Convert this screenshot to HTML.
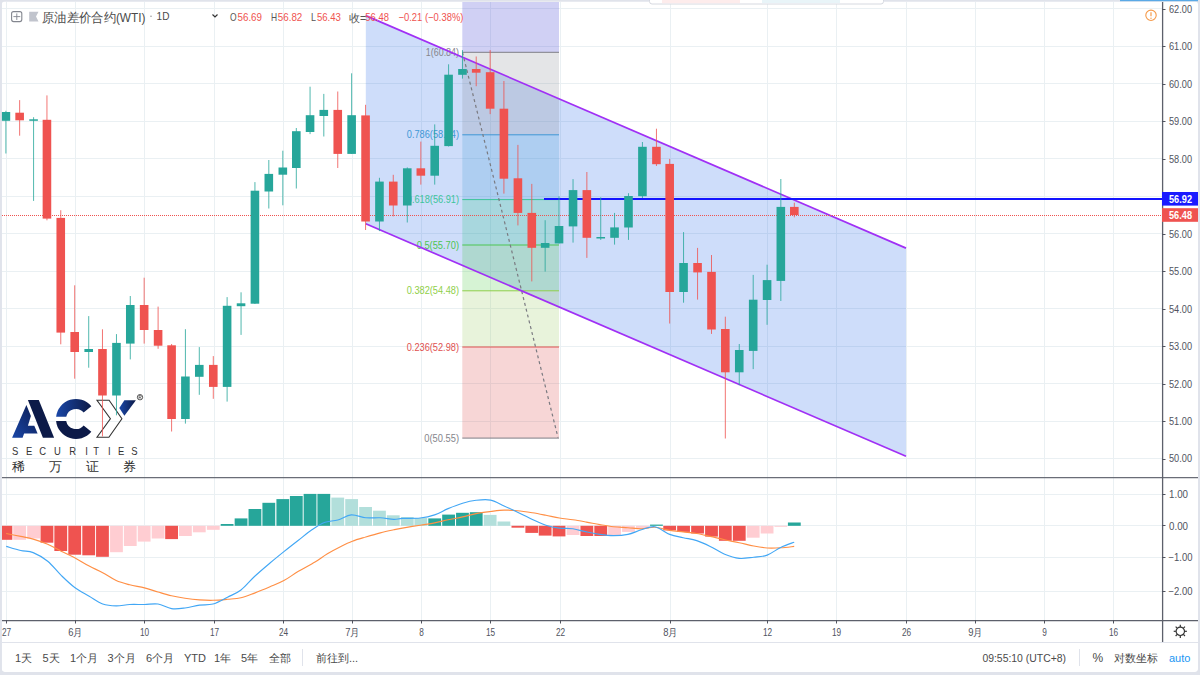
<!DOCTYPE html><html><head><meta charset="utf-8"><style>html,body{margin:0;padding:0;background:#fff;width:1200px;height:675px;overflow:hidden;}svg{display:block;font-family:"Liberation Sans",sans-serif;}</style></head><body>
<svg width="1200" height="675" viewBox="0 0 1200 675">
<rect x="0" y="0" width="1200" height="675" fill="#e0e3eb"/><rect x="1.8" y="1.6" width="1196.2" height="670.4" rx="3" fill="#ffffff"/>
<line x1="2" y1="458.5" x2="1162" y2="458.5" stroke="#eaf0f3" stroke-width="1"/>
<line x1="2" y1="421.5" x2="1162" y2="421.5" stroke="#eaf0f3" stroke-width="1"/>
<line x1="2" y1="383.5" x2="1162" y2="383.5" stroke="#eaf0f3" stroke-width="1"/>
<line x1="2" y1="346.5" x2="1162" y2="346.5" stroke="#eaf0f3" stroke-width="1"/>
<line x1="2" y1="308.5" x2="1162" y2="308.5" stroke="#eaf0f3" stroke-width="1"/>
<line x1="2" y1="271.5" x2="1162" y2="271.5" stroke="#eaf0f3" stroke-width="1"/>
<line x1="2" y1="233.5" x2="1162" y2="233.5" stroke="#eaf0f3" stroke-width="1"/>
<line x1="2" y1="196.5" x2="1162" y2="196.5" stroke="#eaf0f3" stroke-width="1"/>
<line x1="2" y1="158.5" x2="1162" y2="158.5" stroke="#eaf0f3" stroke-width="1"/>
<line x1="2" y1="121.5" x2="1162" y2="121.5" stroke="#eaf0f3" stroke-width="1"/>
<line x1="2" y1="83.5" x2="1162" y2="83.5" stroke="#eaf0f3" stroke-width="1"/>
<line x1="2" y1="46.5" x2="1162" y2="46.5" stroke="#eaf0f3" stroke-width="1"/>
<line x1="2" y1="8.5" x2="1162" y2="8.5" stroke="#eaf0f3" stroke-width="1"/>
<line x1="2" y1="494.5" x2="1162" y2="494.5" stroke="#eaf0f3" stroke-width="1"/>
<line x1="2" y1="525.5" x2="1162" y2="525.5" stroke="#eaf0f3" stroke-width="1"/>
<line x1="2" y1="557.5" x2="1162" y2="557.5" stroke="#eaf0f3" stroke-width="1"/>
<line x1="2" y1="591.5" x2="1162" y2="591.5" stroke="#eaf0f3" stroke-width="1"/>
<line x1="6.5" y1="2" x2="6.5" y2="620" stroke="#eaf0f3" stroke-width="1"/>
<line x1="75.5" y1="2" x2="75.5" y2="620" stroke="#eaf0f3" stroke-width="1"/>
<line x1="144.5" y1="2" x2="144.5" y2="620" stroke="#eaf0f3" stroke-width="1"/>
<line x1="214.5" y1="2" x2="214.5" y2="620" stroke="#eaf0f3" stroke-width="1"/>
<line x1="283.5" y1="2" x2="283.5" y2="620" stroke="#eaf0f3" stroke-width="1"/>
<line x1="352.5" y1="2" x2="352.5" y2="620" stroke="#eaf0f3" stroke-width="1"/>
<line x1="421.5" y1="2" x2="421.5" y2="620" stroke="#eaf0f3" stroke-width="1"/>
<line x1="490.5" y1="2" x2="490.5" y2="620" stroke="#eaf0f3" stroke-width="1"/>
<line x1="560.5" y1="2" x2="560.5" y2="620" stroke="#eaf0f3" stroke-width="1"/>
<line x1="670.5" y1="2" x2="670.5" y2="620" stroke="#eaf0f3" stroke-width="1"/>
<line x1="767.5" y1="2" x2="767.5" y2="620" stroke="#eaf0f3" stroke-width="1"/>
<line x1="836.5" y1="2" x2="836.5" y2="620" stroke="#eaf0f3" stroke-width="1"/>
<line x1="906.5" y1="2" x2="906.5" y2="620" stroke="#eaf0f3" stroke-width="1"/>
<line x1="975.5" y1="2" x2="975.5" y2="620" stroke="#eaf0f3" stroke-width="1"/>
<line x1="1044.5" y1="2" x2="1044.5" y2="620" stroke="#eaf0f3" stroke-width="1"/>
<line x1="1113.5" y1="2" x2="1113.5" y2="620" stroke="#eaf0f3" stroke-width="1"/>
<defs><linearGradient id="lg1" x1="0" y1="1" x2="1" y2="0"><stop offset="0" stop-color="#1a47a8"/><stop offset="1" stop-color="#0c1b4f"/></linearGradient><linearGradient id="lg2" x1="0" y1="0" x2="1" y2="0"><stop offset="0" stop-color="#1a47a8"/><stop offset="1" stop-color="#0c1a46"/></linearGradient></defs>
<g>
<polygon points="12.1,437.8 26.4,405.1 30.9,416 27.9,425.8 34.3,425.8 37.6,433.6 24.1,433.6 22.6,437.8" fill="url(#lg1)"/>
<polygon points="27.9,400.1 38.8,400.1 54.1,437.8 42.9,437.8" fill="#0c1a48"/>
<path d="M 91.32,406.14 A 20.0 20.0 0 0 0 56.12,416.8 L 66.25,416.8 A 10.0 10.0 0 0 1 83.66,412.57 Z" fill="url(#lg2)"/>
<path d="M 56.09,420.9 A 20.0 20.0 0 0 0 91.32,431.86 L 83.66,425.43 A 10.0 10.0 0 0 1 66.18,420.9 Z" fill="#0c1a48"/>
<polygon points="97,400.3 109.1,400.3 121.9,418.7 108.9,437.2 97,437.2 110.4,418.7" fill="none" stroke="#333" stroke-width="1.1" stroke-linejoin="miter"/>
<polygon points="119.3,407.9 124.4,400.3 135.9,400.3 124.4,415.7" fill="url(#lg2)"/>
<circle cx="140" cy="397.2" r="2.7" fill="none" stroke="#333" stroke-width="0.8"/><path d="M139,398.8 V395.6 H140.4 A0.9 0.9 0 0 1 140.4,397.4 H139 M140.2,397.4 L141.2,398.8" fill="none" stroke="#333" stroke-width="0.6"/>
<text transform="translate(12,454.6) scale(0.86,1)" font-size="11" fill="#333">S</text>
<text transform="translate(26,454.6) scale(0.86,1)" font-size="11" fill="#333">E</text>
<text transform="translate(39.3,454.6) scale(0.86,1)" font-size="11" fill="#333">C</text>
<text transform="translate(54,454.6) scale(0.86,1)" font-size="11" fill="#333">U</text>
<text transform="translate(69.3,454.6) scale(0.86,1)" font-size="11" fill="#333">R</text>
<text transform="translate(85.3,454.6) scale(0.86,1)" font-size="11" fill="#333">I</text>
<text transform="translate(93.3,454.6) scale(0.86,1)" font-size="11" fill="#333">T</text>
<text transform="translate(108,454.6) scale(0.86,1)" font-size="11" fill="#333">I</text>
<text transform="translate(118,454.6) scale(0.86,1)" font-size="11" fill="#333">E</text>
<text transform="translate(131.3,454.6) scale(0.86,1)" font-size="11" fill="#333">S</text>
<text x="12" y="471" font-size="13.3" fill="#2e2e2e">稀</text>
<text x="49.3" y="471" font-size="13.3" fill="#2e2e2e">万</text>
<text x="86" y="471" font-size="13.3" fill="#2e2e2e">证</text>
<text x="123.3" y="471" font-size="13.3" fill="#2e2e2e">券</text>
</g>
<polygon points="365.8,15.6 906,248.10208000000003 906,456.30208000000005 365.8,223.8" fill="rgba(33,100,230,0.22)"/>
<rect x="462.3" y="2" width="96.69999999999999" height="50.3" fill="rgba(60,60,210,0.24)"/>
<rect x="462.3" y="52.3" width="96.69999999999999" height="82.50000000000001" fill="rgba(120,123,134,0.2)"/>
<rect x="462.3" y="134.8" width="96.69999999999999" height="64.79999999999998" fill="rgba(50,150,205,0.2)"/>
<rect x="462.3" y="199.6" width="96.69999999999999" height="45.400000000000006" fill="rgba(20,195,110,0.2)"/>
<rect x="462.3" y="245" width="96.69999999999999" height="45.80000000000001" fill="rgba(70,200,60,0.22)"/>
<rect x="462.3" y="290.8" width="96.69999999999999" height="56.19999999999999" fill="rgba(139,195,74,0.2)"/>
<rect x="462.3" y="347" width="96.69999999999999" height="91.10000000000002" fill="rgba(220,70,70,0.22)"/>
<line x1="462.3" y1="52.3" x2="559" y2="52.3" stroke="#7f7f86" stroke-width="1"/>
<line x1="462.3" y1="134.8" x2="559" y2="134.8" stroke="#3f98d6" stroke-width="1"/>
<line x1="462.3" y1="199.6" x2="559" y2="199.6" stroke="#3cc49a" stroke-width="1"/>
<line x1="462.3" y1="245.0" x2="559" y2="245.0" stroke="#4cc552" stroke-width="1"/>
<line x1="462.3" y1="290.8" x2="559" y2="290.8" stroke="#8fcf4a" stroke-width="1"/>
<line x1="462.3" y1="347.0" x2="559" y2="347.0" stroke="#e05050" stroke-width="1"/>
<line x1="462.3" y1="438.1" x2="559" y2="438.1" stroke="#7f7f86" stroke-width="1"/>
<text x="459" y="55.8" font-size="10.3" fill="#85858b" text-anchor="end" textLength="33.19999999999999" lengthAdjust="spacingAndGlyphs">1(60.84)</text>
<text x="459" y="138.3" font-size="10.3" fill="#3f98d6" text-anchor="end" textLength="52.19999999999999" lengthAdjust="spacingAndGlyphs">0.786(58.64)</text>
<text x="459" y="203.1" font-size="10.3" fill="#3cc49a" text-anchor="end" textLength="52.19999999999999" lengthAdjust="spacingAndGlyphs">0.618(56.91)</text>
<text x="459" y="248.5" font-size="10.3" fill="#4cc552" text-anchor="end" textLength="42.30000000000001" lengthAdjust="spacingAndGlyphs">0.5(55.70)</text>
<text x="459" y="294.3" font-size="10.3" fill="#8fcf4a" text-anchor="end" textLength="52.30000000000001" lengthAdjust="spacingAndGlyphs">0.382(54.48)</text>
<text x="459" y="350.5" font-size="10.3" fill="#e05050" text-anchor="end" textLength="52.30000000000001" lengthAdjust="spacingAndGlyphs">0.236(52.98)</text>
<text x="459" y="441.6" font-size="10.3" fill="#85858b" text-anchor="end" textLength="34.69999999999999" lengthAdjust="spacingAndGlyphs">0(50.55)</text>
<line x1="462.5" y1="52.5" x2="558" y2="437.5" stroke="#7a7a80" stroke-width="1.2" stroke-dasharray="3,3"/>
<line x1="365.8" y1="15.6" x2="906" y2="248.10208000000003" stroke="#a030f5" stroke-width="1.7"/>
<line x1="365.8" y1="223.8" x2="906" y2="456.30208000000005" stroke="#a030f5" stroke-width="1.7"/>
<line x1="544" y1="199.1" x2="1162" y2="199.1" stroke="#1414ff" stroke-width="2"/>
<line x1="2" y1="215.5" x2="1162" y2="215.5" stroke="#ef5350" stroke-width="1" stroke-dasharray="1,1"/>
<rect x="5.39" y="110.8" width="1" height="42.7" fill="#26a69a" fill-opacity="0.8"/>
<rect x="1.59" y="112" width="8.6" height="8.799999999999997" fill="#26a69a"/>
<rect x="19.14" y="100.1" width="1" height="35.599999999999994" fill="#ef5350" fill-opacity="0.8"/>
<rect x="15.34" y="112.7" width="8.6" height="7.599999999999994" fill="#ef5350"/>
<rect x="33.08" y="117.2" width="1" height="83.7" fill="#26a69a" fill-opacity="0.8"/>
<rect x="29.28" y="119.3" width="8.6" height="1.5" fill="#26a69a"/>
<rect x="46.44" y="95.4" width="1" height="124.9" fill="#ef5350" fill-opacity="0.8"/>
<rect x="42.64" y="119.8" width="8.6" height="98.8" fill="#ef5350"/>
<rect x="60.26" y="210.2" width="1" height="134.10000000000002" fill="#ef5350" fill-opacity="0.8"/>
<rect x="56.46" y="217.9" width="8.6" height="114.70000000000002" fill="#ef5350"/>
<rect x="74.20" y="285.3" width="1" height="93.39999999999998" fill="#ef5350" fill-opacity="0.8"/>
<rect x="70.40" y="332" width="8.6" height="20" fill="#ef5350"/>
<rect x="88.21" y="316.1" width="1" height="51.599999999999966" fill="#26a69a" fill-opacity="0.8"/>
<rect x="84.41" y="349" width="8.6" height="3" fill="#26a69a"/>
<rect x="101.96" y="329.3" width="1" height="107.09999999999997" fill="#ef5350" fill-opacity="0.8"/>
<rect x="98.16" y="349" width="8.6" height="46.5" fill="#ef5350"/>
<rect x="115.97" y="334.1" width="1" height="81.19999999999999" fill="#26a69a" fill-opacity="0.8"/>
<rect x="112.17" y="342.9" width="8.6" height="52.60000000000002" fill="#26a69a"/>
<rect x="129.78" y="296" width="1" height="63.39999999999998" fill="#26a69a" fill-opacity="0.8"/>
<rect x="125.98" y="305" width="8.6" height="38.60000000000002" fill="#26a69a"/>
<rect x="143.66" y="277.7" width="1" height="65.90000000000003" fill="#ef5350" fill-opacity="0.8"/>
<rect x="139.86" y="305" width="8.6" height="25" fill="#ef5350"/>
<rect x="157.60" y="306.6" width="1" height="42.19999999999999" fill="#ef5350" fill-opacity="0.8"/>
<rect x="153.80" y="330" width="8.6" height="15.699999999999989" fill="#ef5350"/>
<rect x="171.09" y="344" width="1" height="87.5" fill="#ef5350" fill-opacity="0.8"/>
<rect x="167.29" y="345.3" width="8.6" height="73.69999999999999" fill="#ef5350"/>
<rect x="184.91" y="329.2" width="1" height="94.40000000000003" fill="#26a69a" fill-opacity="0.8"/>
<rect x="181.11" y="376.5" width="8.6" height="42.5" fill="#26a69a"/>
<rect x="198.79" y="347.1" width="1" height="47.69999999999999" fill="#26a69a" fill-opacity="0.8"/>
<rect x="194.99" y="364.9" width="8.6" height="11.900000000000034" fill="#26a69a"/>
<rect x="212.79" y="356.1" width="1" height="42.69999999999999" fill="#ef5350" fill-opacity="0.8"/>
<rect x="208.99" y="364.9" width="8.6" height="22.0" fill="#ef5350"/>
<rect x="226.61" y="297.1" width="1" height="104.5" fill="#26a69a" fill-opacity="0.8"/>
<rect x="222.81" y="305.8" width="8.6" height="81.09999999999997" fill="#26a69a"/>
<rect x="240.55" y="292.3" width="1" height="42.599999999999966" fill="#26a69a" fill-opacity="0.8"/>
<rect x="236.75" y="303.3" width="8.6" height="2.8999999999999773" fill="#26a69a"/>
<rect x="254.43" y="182.1" width="1" height="121.9" fill="#26a69a" fill-opacity="0.8"/>
<rect x="250.63" y="190.7" width="8.6" height="113.0" fill="#26a69a"/>
<rect x="268.31" y="160" width="1" height="48.5" fill="#26a69a" fill-opacity="0.8"/>
<rect x="264.51" y="173.9" width="8.6" height="17.599999999999994" fill="#26a69a"/>
<rect x="282.32" y="150.7" width="1" height="54.60000000000002" fill="#26a69a" fill-opacity="0.8"/>
<rect x="278.52" y="167.5" width="8.6" height="7.199999999999989" fill="#26a69a"/>
<rect x="295.81" y="128" width="1" height="60.5" fill="#26a69a" fill-opacity="0.8"/>
<rect x="292.01" y="131.2" width="8.6" height="36.80000000000001" fill="#26a69a"/>
<rect x="309.56" y="86.7" width="1" height="47.39999999999999" fill="#26a69a" fill-opacity="0.8"/>
<rect x="305.76" y="115.2" width="8.6" height="16.799999999999997" fill="#26a69a"/>
<rect x="323.30" y="93.9" width="1" height="42.599999999999994" fill="#26a69a" fill-opacity="0.8"/>
<rect x="319.50" y="109.9" width="8.6" height="6.099999999999994" fill="#26a69a"/>
<rect x="337.25" y="91.5" width="1" height="76.5" fill="#ef5350" fill-opacity="0.8"/>
<rect x="333.45" y="109.9" width="8.6" height="44.0" fill="#ef5350"/>
<rect x="351.13" y="73.3" width="1" height="80.7" fill="#26a69a" fill-opacity="0.8"/>
<rect x="347.33" y="115.2" width="8.6" height="38.7" fill="#26a69a"/>
<rect x="365.07" y="104.8" width="1" height="125.2" fill="#ef5350" fill-opacity="0.8"/>
<rect x="361.27" y="115.4" width="8.6" height="106.1" fill="#ef5350"/>
<rect x="378.95" y="177.8" width="1" height="53.29999999999998" fill="#26a69a" fill-opacity="0.8"/>
<rect x="375.15" y="181.6" width="8.6" height="39.900000000000006" fill="#26a69a"/>
<rect x="392.76" y="174.8" width="1" height="41.599999999999994" fill="#ef5350" fill-opacity="0.8"/>
<rect x="388.96" y="181.6" width="8.6" height="23.900000000000006" fill="#ef5350"/>
<rect x="406.77" y="167.4" width="1" height="55.099999999999994" fill="#26a69a" fill-opacity="0.8"/>
<rect x="402.97" y="168.3" width="8.6" height="37.19999999999999" fill="#26a69a"/>
<rect x="420.33" y="141.6" width="1" height="43.0" fill="#ef5350" fill-opacity="0.8"/>
<rect x="416.53" y="168.3" width="8.6" height="7.399999999999977" fill="#ef5350"/>
<rect x="434.21" y="124.4" width="1" height="60.19999999999999" fill="#26a69a" fill-opacity="0.8"/>
<rect x="430.41" y="145.8" width="8.6" height="29.899999999999977" fill="#26a69a"/>
<rect x="448.08" y="64.3" width="1" height="82.2" fill="#26a69a" fill-opacity="0.8"/>
<rect x="444.28" y="74.7" width="8.6" height="71.39999999999999" fill="#26a69a"/>
<rect x="461.96" y="50.1" width="1" height="28.499999999999993" fill="#26a69a" fill-opacity="0.8"/>
<rect x="458.16" y="69" width="8.6" height="5.799999999999997" fill="#26a69a"/>
<rect x="475.71" y="56.5" width="1" height="29.700000000000003" fill="#ef5350" fill-opacity="0.8"/>
<rect x="471.91" y="69" width="8.6" height="3.700000000000003" fill="#ef5350"/>
<rect x="489.66" y="50.1" width="1" height="63.99999999999999" fill="#ef5350" fill-opacity="0.8"/>
<rect x="485.86" y="72.2" width="8.6" height="36.5" fill="#ef5350"/>
<rect x="503.40" y="81" width="1" height="112.6" fill="#ef5350" fill-opacity="0.8"/>
<rect x="499.60" y="108.7" width="8.6" height="69.99999999999999" fill="#ef5350"/>
<rect x="517.41" y="144.9" width="1" height="80.5" fill="#ef5350" fill-opacity="0.8"/>
<rect x="513.61" y="178.3" width="8.6" height="34.599999999999994" fill="#ef5350"/>
<rect x="531.29" y="183.9" width="1" height="97.49999999999997" fill="#ef5350" fill-opacity="0.8"/>
<rect x="527.49" y="212.9" width="8.6" height="34.900000000000006" fill="#ef5350"/>
<rect x="544.65" y="220.2" width="1" height="51.400000000000034" fill="#26a69a" fill-opacity="0.8"/>
<rect x="540.85" y="243" width="8.6" height="4.800000000000011" fill="#26a69a"/>
<rect x="558.53" y="196.3" width="1" height="47.19999999999999" fill="#26a69a" fill-opacity="0.8"/>
<rect x="554.73" y="226" width="8.6" height="17.400000000000006" fill="#26a69a"/>
<rect x="572.54" y="179.1" width="1" height="63.5" fill="#26a69a" fill-opacity="0.8"/>
<rect x="568.74" y="190.1" width="8.6" height="36.30000000000001" fill="#26a69a"/>
<rect x="586.35" y="172" width="1" height="85.89999999999998" fill="#ef5350" fill-opacity="0.8"/>
<rect x="582.55" y="190.1" width="8.6" height="47.70000000000002" fill="#ef5350"/>
<rect x="600.23" y="197.3" width="1" height="42.599999999999994" fill="#26a69a" fill-opacity="0.8"/>
<rect x="596.43" y="237" width="8.6" height="1.5" fill="#26a69a"/>
<rect x="614.04" y="212.9" width="1" height="31.69999999999999" fill="#26a69a" fill-opacity="0.8"/>
<rect x="610.24" y="227.4" width="8.6" height="10.400000000000006" fill="#26a69a"/>
<rect x="627.99" y="193.2" width="1" height="46.70000000000002" fill="#26a69a" fill-opacity="0.8"/>
<rect x="624.19" y="196" width="8.6" height="31.5" fill="#26a69a"/>
<rect x="641.93" y="142" width="1" height="56" fill="#26a69a" fill-opacity="0.8"/>
<rect x="638.13" y="146.8" width="8.6" height="49.39999999999998" fill="#26a69a"/>
<rect x="655.94" y="128.7" width="1" height="37.30000000000001" fill="#ef5350" fill-opacity="0.8"/>
<rect x="652.14" y="146.8" width="8.6" height="17.399999999999977" fill="#ef5350"/>
<rect x="669.17" y="158.9" width="1" height="164.6" fill="#ef5350" fill-opacity="0.8"/>
<rect x="665.37" y="163.9" width="8.6" height="128.1" fill="#ef5350"/>
<rect x="683.05" y="232.1" width="1" height="70.6" fill="#26a69a" fill-opacity="0.8"/>
<rect x="679.25" y="263" width="8.6" height="29" fill="#26a69a"/>
<rect x="697.06" y="247.9" width="1" height="51.70000000000002" fill="#ef5350" fill-opacity="0.8"/>
<rect x="693.26" y="263" width="8.6" height="9.399999999999977" fill="#ef5350"/>
<rect x="711.00" y="255" width="1" height="78.89999999999998" fill="#ef5350" fill-opacity="0.8"/>
<rect x="707.20" y="271.9" width="8.6" height="57.60000000000002" fill="#ef5350"/>
<rect x="724.82" y="316.7" width="1" height="121.80000000000001" fill="#ef5350" fill-opacity="0.8"/>
<rect x="721.02" y="329" width="8.6" height="43.30000000000001" fill="#ef5350"/>
<rect x="738.76" y="344" width="1" height="41.19999999999999" fill="#26a69a" fill-opacity="0.8"/>
<rect x="734.96" y="350" width="8.6" height="22.30000000000001" fill="#26a69a"/>
<rect x="752.70" y="274.9" width="1" height="94.20000000000005" fill="#26a69a" fill-opacity="0.8"/>
<rect x="748.90" y="299.7" width="8.6" height="51.19999999999999" fill="#26a69a"/>
<rect x="766.58" y="264.7" width="1" height="60.10000000000002" fill="#26a69a" fill-opacity="0.8"/>
<rect x="762.78" y="280.1" width="8.6" height="19.899999999999977" fill="#26a69a"/>
<rect x="780.33" y="179" width="1" height="122" fill="#26a69a" fill-opacity="0.8"/>
<rect x="776.53" y="206.9" width="8.6" height="73.99999999999997" fill="#26a69a"/>
<rect x="793.82" y="202.7" width="1" height="14.600000000000023" fill="#ef5350" fill-opacity="0.8"/>
<rect x="790.02" y="206.9" width="8.6" height="8.099999999999994" fill="#ef5350"/>
<rect x="2" y="525.8" width="10.291500000000001" height="14.0" fill="#ef5350"/>
<rect x="13.240324999999997" y="525.8" width="12.8" height="14.0" fill="#ffcdd2"/>
<rect x="27.184150000000002" y="525.8" width="12.8" height="12.700000000000045" fill="#ffcdd2"/>
<rect x="40.54297499999999" y="525.8" width="12.8" height="16.90000000000009" fill="#ef5350"/>
<rect x="54.3568" y="525.8" width="12.8" height="25.200000000000045" fill="#ef5350"/>
<rect x="68.30062499999998" y="525.8" width="12.8" height="28.90000000000009" fill="#ef5350"/>
<rect x="82.30945" y="525.8" width="12.8" height="29.5" fill="#ef5350"/>
<rect x="96.05827499999998" y="525.8" width="12.8" height="31.0" fill="#ef5350"/>
<rect x="110.0671" y="525.8" width="12.8" height="26.40000000000009" fill="#ffcdd2"/>
<rect x="123.88092499999999" y="525.8" width="12.8" height="20.200000000000045" fill="#ffcdd2"/>
<rect x="137.75974999999997" y="525.8" width="12.8" height="15.800000000000068" fill="#ffcdd2"/>
<rect x="151.70357499999997" y="525.8" width="12.8" height="12.700000000000045" fill="#ffcdd2"/>
<rect x="165.1924" y="525.8" width="12.8" height="13.300000000000068" fill="#ef5350"/>
<rect x="179.006225" y="525.8" width="12.8" height="10.200000000000045" fill="#ffcdd2"/>
<rect x="192.88504999999998" y="525.8" width="12.8" height="6.5" fill="#ffcdd2"/>
<rect x="206.893875" y="525.8" width="12.8" height="4.0" fill="#ffcdd2"/>
<rect x="220.7077" y="524" width="12.8" height="1.7999999999999545" fill="#26a69a"/>
<rect x="234.65152499999996" y="518.4" width="12.8" height="7.399999999999977" fill="#26a69a"/>
<rect x="248.53034999999997" y="509" width="12.8" height="16.799999999999955" fill="#26a69a"/>
<rect x="262.409175" y="502.8" width="12.8" height="22.999999999999943" fill="#26a69a"/>
<rect x="276.418" y="499.1" width="12.8" height="26.699999999999932" fill="#26a69a"/>
<rect x="289.906825" y="496" width="12.8" height="29.799999999999955" fill="#26a69a"/>
<rect x="303.65565000000004" y="493.9" width="12.8" height="31.899999999999977" fill="#26a69a"/>
<rect x="317.404475" y="493.9" width="12.8" height="31.899999999999977" fill="#26a69a"/>
<rect x="331.3483" y="497.6" width="12.8" height="28.199999999999932" fill="#b2dfdb"/>
<rect x="345.227125" y="499.1" width="12.8" height="26.699999999999932" fill="#b2dfdb"/>
<rect x="359.17095000000006" y="507" width="12.8" height="18.799999999999955" fill="#b2dfdb"/>
<rect x="373.049775" y="510.7" width="12.8" height="15.099999999999966" fill="#b2dfdb"/>
<rect x="386.8636" y="515.3" width="12.8" height="10.5" fill="#b2dfdb"/>
<rect x="400.872425" y="517" width="12.8" height="8.799999999999955" fill="#b2dfdb"/>
<rect x="414.42625000000004" y="518" width="12.8" height="7.7999999999999545" fill="#b2dfdb"/>
<rect x="428.305075" y="518.4" width="12.8" height="7.399999999999977" fill="#26a69a"/>
<rect x="442.1839" y="514.6" width="12.8" height="11.199999999999932" fill="#26a69a"/>
<rect x="456.062725" y="512.8" width="12.8" height="13.0" fill="#26a69a"/>
<rect x="469.81155" y="512.2" width="12.8" height="13.599999999999909" fill="#26a69a"/>
<rect x="483.755375" y="514.9" width="12.8" height="10.899999999999977" fill="#b2dfdb"/>
<rect x="497.50419999999997" y="521.5" width="12.8" height="4.2999999999999545" fill="#b2dfdb"/>
<rect x="511.5130250000001" y="525.8" width="12.8" height="1.900000000000091" fill="#ef5350"/>
<rect x="525.3918500000001" y="525.8" width="12.8" height="7.100000000000023" fill="#ef5350"/>
<rect x="538.750675" y="525.8" width="12.8" height="9.800000000000068" fill="#ef5350"/>
<rect x="552.6295" y="525.8" width="12.8" height="10.600000000000023" fill="#ef5350"/>
<rect x="566.638325" y="525.8" width="12.8" height="9.200000000000045" fill="#ffcdd2"/>
<rect x="580.45215" y="525.8" width="12.8" height="10.200000000000045" fill="#ef5350"/>
<rect x="594.3309750000001" y="525.8" width="12.8" height="10.200000000000045" fill="#ef5350"/>
<rect x="608.1448" y="525.8" width="12.8" height="9.200000000000045" fill="#ffcdd2"/>
<rect x="622.088625" y="525.8" width="12.8" height="6.100000000000023" fill="#ffcdd2"/>
<rect x="636.03245" y="525.8" width="12.8" height="3.0" fill="#ffcdd2"/>
<rect x="650.041275" y="524.6" width="12.8" height="1.1999999999999318" fill="#26a69a"/>
<rect x="663.2701000000001" y="525.8" width="12.8" height="4.600000000000023" fill="#ef5350"/>
<rect x="677.148925" y="525.8" width="12.8" height="6.100000000000023" fill="#ef5350"/>
<rect x="691.15775" y="525.8" width="12.8" height="7.7000000000000455" fill="#ef5350"/>
<rect x="705.101575" y="525.8" width="12.8" height="10.800000000000068" fill="#ef5350"/>
<rect x="718.9154" y="525.8" width="12.8" height="15.0" fill="#ef5350"/>
<rect x="732.859225" y="525.8" width="12.8" height="15.0" fill="#ef5350"/>
<rect x="746.80305" y="525.8" width="12.8" height="11.900000000000091" fill="#ffcdd2"/>
<rect x="760.6818750000001" y="525.8" width="12.8" height="7.7000000000000455" fill="#ffcdd2"/>
<rect x="774.4307" y="525.8" width="12.8" height="1" fill="#ffcdd2"/>
<rect x="787.919525" y="522.5" width="12.8" height="3.2999999999999545" fill="#26a69a"/>
<path d="M 6.20,533.50 C 8.62,533.98 16.20,535.47 20.70,536.40 C 25.20,537.33 28.70,537.78 33.20,539.10 C 37.70,540.42 43.03,542.28 47.70,544.30 C 52.37,546.32 56.70,548.95 61.20,551.20 C 65.70,553.45 70.03,555.32 74.70,557.80 C 79.37,560.28 84.53,563.62 89.20,566.10 C 93.87,568.58 98.20,570.28 102.70,572.70 C 107.20,575.12 111.70,578.58 116.20,580.60 C 120.70,582.62 124.98,583.58 129.70,584.80 C 134.42,586.02 139.78,586.70 144.50,587.90 C 149.22,589.10 153.50,590.68 158.00,592.00 C 162.50,593.32 167.00,594.75 171.50,595.80 C 176.00,596.85 180.33,597.62 185.00,598.30 C 189.67,598.98 194.83,599.57 199.50,599.90 C 204.17,600.23 208.33,600.40 213.00,600.30 C 217.67,600.20 222.83,599.72 227.50,599.30 C 232.17,598.88 236.50,598.83 241.00,597.80 C 245.50,596.77 249.67,594.93 254.50,593.10 C 259.33,591.27 265.10,588.88 270.00,586.80 C 274.90,584.72 279.17,583.18 283.90,580.60 C 288.63,578.02 293.22,574.40 298.40,571.30 C 303.58,568.20 310.17,564.93 315.00,562.00 C 319.83,559.07 323.08,556.30 327.40,553.70 C 331.72,551.10 336.75,548.48 340.90,546.40 C 345.05,544.32 348.15,542.77 352.30,541.20 C 356.45,539.63 361.13,538.38 365.80,537.00 C 370.47,535.62 375.63,534.10 380.30,532.90 C 384.97,531.70 390.12,530.60 393.80,529.80 C 397.48,529.00 398.02,528.87 402.40,528.10 C 406.78,527.33 414.73,526.07 420.10,525.20 C 425.47,524.33 429.93,523.80 434.60,522.90 C 439.27,522.00 443.43,520.80 448.10,519.80 C 452.77,518.80 457.93,517.93 462.60,516.90 C 467.27,515.87 471.43,514.50 476.10,513.60 C 480.77,512.70 485.93,512.08 490.60,511.50 C 495.27,510.92 499.60,510.23 504.10,510.10 C 508.60,509.97 512.88,510.25 517.60,510.70 C 522.32,511.15 527.68,512.03 532.40,512.80 C 537.12,513.57 541.40,514.43 545.90,515.30 C 550.40,516.17 554.90,517.25 559.40,518.00 C 563.90,518.75 568.40,519.12 572.90,519.80 C 577.40,520.48 581.90,521.30 586.40,522.10 C 590.90,522.90 595.40,523.83 599.90,524.60 C 604.40,525.37 608.73,526.18 613.40,526.70 C 618.07,527.22 623.23,527.35 627.90,527.70 C 632.57,528.05 636.90,528.87 641.40,528.80 C 645.90,528.73 650.18,527.03 654.90,527.30 C 659.62,527.57 664.98,529.63 669.70,530.40 C 674.42,531.17 678.70,531.38 683.20,531.90 C 687.70,532.42 692.20,532.75 696.70,533.50 C 701.20,534.25 705.53,535.35 710.20,536.40 C 714.87,537.45 719.87,538.75 724.70,539.80 C 729.53,540.85 734.37,541.67 739.20,542.70 C 744.03,543.73 749.03,545.12 753.70,546.00 C 758.37,546.88 762.70,547.70 767.20,548.00 C 771.70,548.30 776.20,548.07 780.70,547.80 C 785.20,547.53 791.95,546.63 794.20,546.40" fill="none" stroke="#ff8f45" stroke-width="1.15"/>
<path d="M 6.20,546.40 C 8.62,547.08 16.20,549.47 20.70,550.50 C 25.20,551.53 28.70,550.80 33.20,552.60 C 37.70,554.40 43.03,557.50 47.70,561.30 C 52.37,565.10 56.70,571.03 61.20,575.40 C 65.70,579.77 70.03,584.03 74.70,587.50 C 79.37,590.97 84.53,593.45 89.20,596.20 C 93.87,598.95 98.20,602.38 102.70,604.00 C 107.20,605.62 111.70,605.82 116.20,605.90 C 120.70,605.98 124.98,604.73 129.70,604.50 C 134.42,604.27 139.78,604.58 144.50,604.50 C 149.22,604.42 153.50,603.32 158.00,604.00 C 162.50,604.68 167.00,607.93 171.50,608.60 C 176.00,609.27 180.33,608.58 185.00,608.00 C 189.67,607.42 194.83,605.77 199.50,605.10 C 204.17,604.43 208.33,605.32 213.00,604.00 C 217.67,602.68 222.83,599.53 227.50,597.20 C 232.17,594.87 236.50,593.45 241.00,590.00 C 245.50,586.55 249.67,581.00 254.50,576.50 C 259.33,572.00 265.10,567.15 270.00,563.00 C 274.90,558.85 279.17,555.40 283.90,551.60 C 288.63,547.80 293.73,543.83 298.40,540.20 C 303.07,536.57 307.58,532.75 311.90,529.80 C 316.22,526.85 319.98,524.13 324.30,522.50 C 328.62,520.87 333.30,521.27 337.80,520.00 C 342.30,518.73 346.63,515.27 351.30,514.90 C 355.97,514.53 360.97,517.32 365.80,517.80 C 370.63,518.28 375.63,517.53 380.30,517.80 C 384.97,518.07 390.12,519.30 393.80,519.40 C 397.48,519.50 398.02,518.63 402.40,518.40 C 406.78,518.17 414.73,518.58 420.10,518.00 C 425.47,517.42 429.93,516.47 434.60,514.90 C 439.27,513.33 443.43,510.55 448.10,508.60 C 452.77,506.65 457.93,504.58 462.60,503.20 C 467.27,501.82 471.43,500.82 476.10,500.30 C 480.77,499.78 485.93,499.17 490.60,500.10 C 495.27,501.03 499.60,503.88 504.10,505.90 C 508.60,507.92 512.88,509.95 517.60,512.20 C 522.32,514.45 527.68,517.23 532.40,519.40 C 537.12,521.57 541.40,523.75 545.90,525.20 C 550.40,526.65 554.90,527.50 559.40,528.10 C 563.90,528.70 568.40,528.17 572.90,528.80 C 577.40,529.43 581.90,530.97 586.40,531.90 C 590.90,532.83 595.40,533.78 599.90,534.40 C 604.40,535.02 608.73,535.60 613.40,535.60 C 618.07,535.60 623.23,535.37 627.90,534.40 C 632.57,533.43 636.90,531.08 641.40,529.80 C 645.90,528.52 650.18,525.93 654.90,526.70 C 659.62,527.47 664.98,532.57 669.70,534.40 C 674.42,536.23 678.70,536.67 683.20,537.70 C 687.70,538.73 692.20,539.15 696.70,540.60 C 701.20,542.05 705.53,544.12 710.20,546.40 C 714.87,548.68 719.87,552.30 724.70,554.30 C 729.53,556.30 734.37,557.92 739.20,558.40 C 744.03,558.88 749.03,557.75 753.70,557.20 C 758.37,556.65 762.70,556.73 767.20,555.10 C 771.70,553.47 776.20,549.55 780.70,547.40 C 785.20,545.25 791.95,543.07 794.20,542.20" fill="none" stroke="#42a7f5" stroke-width="1.15"/>
<line x1="2" y1="477.6" x2="1198" y2="477.6" stroke="#6a6d77" stroke-width="1.3"/>
<line x1="1162.6" y1="2" x2="1162.6" y2="642" stroke="#5d606b" stroke-width="1.3"/>
<line x1="2" y1="620.6" x2="1198" y2="620.6" stroke="#5d606b" stroke-width="1.3"/>
<line x1="1162" y1="459.5" x2="1165.5" y2="459.5" stroke="#50535e" stroke-width="1"/>
<text x="1169" y="462.48" font-size="10.2" fill="#50535e" textLength="23" lengthAdjust="spacingAndGlyphs">50.00</text>
<line x1="1162" y1="421.5" x2="1165.5" y2="421.5" stroke="#50535e" stroke-width="1"/>
<text x="1169" y="424.99000000000007" font-size="10.2" fill="#50535e" textLength="23" lengthAdjust="spacingAndGlyphs">51.00</text>
<line x1="1162" y1="384.5" x2="1165.5" y2="384.5" stroke="#50535e" stroke-width="1"/>
<text x="1169" y="387.50000000000006" font-size="10.2" fill="#50535e" textLength="23" lengthAdjust="spacingAndGlyphs">52.00</text>
<line x1="1162" y1="346.5" x2="1165.5" y2="346.5" stroke="#50535e" stroke-width="1"/>
<text x="1169" y="350.01000000000005" font-size="10.2" fill="#50535e" textLength="23" lengthAdjust="spacingAndGlyphs">53.00</text>
<line x1="1162" y1="309.5" x2="1165.5" y2="309.5" stroke="#50535e" stroke-width="1"/>
<text x="1169" y="312.52000000000004" font-size="10.2" fill="#50535e" textLength="23" lengthAdjust="spacingAndGlyphs">54.00</text>
<line x1="1162" y1="271.5" x2="1165.5" y2="271.5" stroke="#50535e" stroke-width="1"/>
<text x="1169" y="275.03000000000003" font-size="10.2" fill="#50535e" textLength="23" lengthAdjust="spacingAndGlyphs">55.00</text>
<line x1="1162" y1="234.5" x2="1165.5" y2="234.5" stroke="#50535e" stroke-width="1"/>
<text x="1169" y="237.54000000000002" font-size="10.2" fill="#50535e" textLength="23" lengthAdjust="spacingAndGlyphs">56.00</text>
<line x1="1162" y1="196.5" x2="1165.5" y2="196.5" stroke="#50535e" stroke-width="1"/>
<line x1="1162" y1="159.5" x2="1165.5" y2="159.5" stroke="#50535e" stroke-width="1"/>
<text x="1169" y="162.56000000000003" font-size="10.2" fill="#50535e" textLength="23" lengthAdjust="spacingAndGlyphs">58.00</text>
<line x1="1162" y1="121.5" x2="1165.5" y2="121.5" stroke="#50535e" stroke-width="1"/>
<text x="1169" y="125.07" font-size="10.2" fill="#50535e" textLength="23" lengthAdjust="spacingAndGlyphs">59.00</text>
<line x1="1162" y1="84.5" x2="1165.5" y2="84.5" stroke="#50535e" stroke-width="1"/>
<text x="1169" y="87.58" font-size="10.2" fill="#50535e" textLength="23" lengthAdjust="spacingAndGlyphs">60.00</text>
<line x1="1162" y1="46.5" x2="1165.5" y2="46.5" stroke="#50535e" stroke-width="1"/>
<text x="1169" y="50.09" font-size="10.2" fill="#50535e" textLength="23" lengthAdjust="spacingAndGlyphs">61.00</text>
<line x1="1162" y1="9.5" x2="1165.5" y2="9.5" stroke="#50535e" stroke-width="1"/>
<text x="1169" y="12.600000000000001" font-size="10.2" fill="#50535e" textLength="23" lengthAdjust="spacingAndGlyphs">62.00</text>
<line x1="1162" y1="494.5" x2="1165.5" y2="494.5" stroke="#50535e" stroke-width="1"/>
<text x="1169" y="497.8" font-size="10.2" fill="#50535e" textLength="19" lengthAdjust="spacingAndGlyphs">1.00</text>
<line x1="1162" y1="525.5" x2="1165.5" y2="525.5" stroke="#50535e" stroke-width="1"/>
<text x="1169" y="529.5999999999999" font-size="10.2" fill="#50535e" textLength="19" lengthAdjust="spacingAndGlyphs">0.00</text>
<line x1="1162" y1="557.5" x2="1165.5" y2="557.5" stroke="#50535e" stroke-width="1"/>
<text x="1168.5" y="561.0999999999999" font-size="10.2" fill="#50535e" textLength="24" lengthAdjust="spacingAndGlyphs">−1.00</text>
<line x1="1162" y1="591.5" x2="1165.5" y2="591.5" stroke="#50535e" stroke-width="1"/>
<text x="1168.5" y="594.8" font-size="10.2" fill="#50535e" textLength="24" lengthAdjust="spacingAndGlyphs">−2.00</text>
<rect x="1162" y="192" width="36" height="13.6" fill="#1a1aff"/>
<text x="1169" y="202.6" font-size="10.4" font-weight="bold" fill="#fff" textLength="23" lengthAdjust="spacingAndGlyphs">56.92</text>
<rect x="1162" y="208.2" width="36" height="13.6" fill="#ef5350"/>
<text x="1169" y="218.8" font-size="10.4" font-weight="bold" fill="#fff" textLength="23" lengthAdjust="spacingAndGlyphs">56.48</text>
<line x1="6.5" y1="620" x2="6.5" y2="623.5" stroke="#50535e" stroke-width="1"/>
<text x="6.5" y="636" font-size="10.2" fill="#50535e" text-anchor="middle" textLength="9.2" lengthAdjust="spacingAndGlyphs">27</text>
<line x1="75.5" y1="620" x2="75.5" y2="623.5" stroke="#50535e" stroke-width="1"/>
<text x="75.5" y="636" font-size="10.2" fill="#50535e" text-anchor="middle" textLength="14.5" lengthAdjust="spacingAndGlyphs">6月</text>
<line x1="144.5" y1="620" x2="144.5" y2="623.5" stroke="#50535e" stroke-width="1"/>
<text x="144.5" y="636" font-size="10.2" fill="#50535e" text-anchor="middle" textLength="9.2" lengthAdjust="spacingAndGlyphs">10</text>
<line x1="214.5" y1="620" x2="214.5" y2="623.5" stroke="#50535e" stroke-width="1"/>
<text x="214.5" y="636" font-size="10.2" fill="#50535e" text-anchor="middle" textLength="9.2" lengthAdjust="spacingAndGlyphs">17</text>
<line x1="283.5" y1="620" x2="283.5" y2="623.5" stroke="#50535e" stroke-width="1"/>
<text x="283.5" y="636" font-size="10.2" fill="#50535e" text-anchor="middle" textLength="9.2" lengthAdjust="spacingAndGlyphs">24</text>
<line x1="352.5" y1="620" x2="352.5" y2="623.5" stroke="#50535e" stroke-width="1"/>
<text x="352.5" y="636" font-size="10.2" fill="#50535e" text-anchor="middle" textLength="14.5" lengthAdjust="spacingAndGlyphs">7月</text>
<line x1="421.5" y1="620" x2="421.5" y2="623.5" stroke="#50535e" stroke-width="1"/>
<text x="421.5" y="636" font-size="10.2" fill="#50535e" text-anchor="middle" textLength="4.6" lengthAdjust="spacingAndGlyphs">8</text>
<line x1="490.5" y1="620" x2="490.5" y2="623.5" stroke="#50535e" stroke-width="1"/>
<text x="490.5" y="636" font-size="10.2" fill="#50535e" text-anchor="middle" textLength="9.2" lengthAdjust="spacingAndGlyphs">15</text>
<line x1="560.5" y1="620" x2="560.5" y2="623.5" stroke="#50535e" stroke-width="1"/>
<text x="560.5" y="636" font-size="10.2" fill="#50535e" text-anchor="middle" textLength="9.2" lengthAdjust="spacingAndGlyphs">22</text>
<line x1="670.5" y1="620" x2="670.5" y2="623.5" stroke="#50535e" stroke-width="1"/>
<text x="670.5" y="636" font-size="10.2" fill="#50535e" text-anchor="middle" textLength="14.5" lengthAdjust="spacingAndGlyphs">8月</text>
<line x1="767.5" y1="620" x2="767.5" y2="623.5" stroke="#50535e" stroke-width="1"/>
<text x="767.5" y="636" font-size="10.2" fill="#50535e" text-anchor="middle" textLength="9.2" lengthAdjust="spacingAndGlyphs">12</text>
<line x1="836.5" y1="620" x2="836.5" y2="623.5" stroke="#50535e" stroke-width="1"/>
<text x="836.5" y="636" font-size="10.2" fill="#50535e" text-anchor="middle" textLength="9.2" lengthAdjust="spacingAndGlyphs">19</text>
<line x1="906.5" y1="620" x2="906.5" y2="623.5" stroke="#50535e" stroke-width="1"/>
<text x="906.5" y="636" font-size="10.2" fill="#50535e" text-anchor="middle" textLength="9.2" lengthAdjust="spacingAndGlyphs">26</text>
<line x1="975.5" y1="620" x2="975.5" y2="623.5" stroke="#50535e" stroke-width="1"/>
<text x="975.5" y="636" font-size="10.2" fill="#50535e" text-anchor="middle" textLength="14.5" lengthAdjust="spacingAndGlyphs">9月</text>
<line x1="1044.5" y1="620" x2="1044.5" y2="623.5" stroke="#50535e" stroke-width="1"/>
<text x="1044.5" y="636" font-size="10.2" fill="#50535e" text-anchor="middle" textLength="4.6" lengthAdjust="spacingAndGlyphs">9</text>
<line x1="1113.5" y1="620" x2="1113.5" y2="623.5" stroke="#50535e" stroke-width="1"/>
<text x="1113.5" y="636" font-size="10.2" fill="#50535e" text-anchor="middle" textLength="9.2" lengthAdjust="spacingAndGlyphs">16</text>
<g transform="translate(1180.3,631.3)" fill="none" stroke="#333" stroke-width="1.2"><circle r="4.2"/><line x1="0" y1="-4.4" x2="0" y2="-6.6" transform="rotate(0)"/><line x1="0" y1="-4.4" x2="0" y2="-6.6" transform="rotate(45)"/><line x1="0" y1="-4.4" x2="0" y2="-6.6" transform="rotate(90)"/><line x1="0" y1="-4.4" x2="0" y2="-6.6" transform="rotate(135)"/><line x1="0" y1="-4.4" x2="0" y2="-6.6" transform="rotate(180)"/><line x1="0" y1="-4.4" x2="0" y2="-6.6" transform="rotate(225)"/><line x1="0" y1="-4.4" x2="0" y2="-6.6" transform="rotate(270)"/><line x1="0" y1="-4.4" x2="0" y2="-6.6" transform="rotate(315)"/></g>
<line x1="2" y1="642.5" x2="1198" y2="642.5" stroke="#e0e3eb" stroke-width="1"/>
<text x="15" y="662" font-size="11" fill="#4a4a4a">1天</text>
<text x="42.5" y="662" font-size="11" fill="#4a4a4a">5天</text>
<text x="70" y="662" font-size="11" fill="#4a4a4a">1个月</text>
<text x="107.5" y="662" font-size="11" fill="#4a4a4a">3个月</text>
<text x="146" y="662" font-size="11" fill="#4a4a4a">6个月</text>
<text x="184" y="662" font-size="11" fill="#4a4a4a">YTD</text>
<text x="214" y="662" font-size="11" fill="#4a4a4a">1年</text>
<text x="241" y="662" font-size="11" fill="#4a4a4a">5年</text>
<text x="269" y="662" font-size="11" fill="#4a4a4a">全部</text>
<text x="316" y="662" font-size="11" fill="#4a4a4a">前往到...</text>
<line x1="302.5" y1="649" x2="302.5" y2="666" stroke="#e0e3eb" stroke-width="1"/>
<line x1="1079.5" y1="649" x2="1079.5" y2="666" stroke="#e0e3eb" stroke-width="1"/>
<text x="982.4" y="662" font-size="11" fill="#4a4a4a" textLength="83.6" lengthAdjust="spacingAndGlyphs">09:55:10 (UTC+8)</text>
<text x="1092.5" y="662.3" font-size="12" fill="#4a4a4a">%</text>
<text x="1114" y="662" font-size="11" fill="#4a4a4a">对数坐标</text>
<text x="1169" y="662" font-size="11" fill="#2196f3">auto</text>
<rect x="11.6" y="11.6" width="10.2" height="10" rx="2" fill="none" stroke="#83868f" stroke-width="1.1"/>
<line x1="16.8" y1="13.4" x2="16.8" y2="20" stroke="#83868f" stroke-width="0.9"/><line x1="13.4" y1="16.6" x2="20.3" y2="16.6" stroke="#83868f" stroke-width="0.9"/>
<polygon points="29.2,11.8 38.5,11.8 36,16.6 38.5,21.5 29.2,21.5" fill="#c1c4cd"/>
<text x="42" y="21.6" font-size="12.5" fill="#4a4a4a" textLength="103.5" lengthAdjust="spacingAndGlyphs">原油差价合约(WTI)</text>
<circle cx="151" cy="16.3" r="0.8" fill="#999"/>
<text x="156.6" y="19.9" font-size="10.6" fill="#4a4a4a" textLength="12.8" lengthAdjust="spacingAndGlyphs">1D</text>
<polyline points="212.5,14.5 215,17 217.5,14.5" fill="none" stroke="#333" stroke-width="1.2"/>
<text x="230" y="21.4" font-size="10.8" fill="#555" textLength="6.6" lengthAdjust="spacingAndGlyphs">O</text>
<text x="237.5" y="21.4" font-size="10.8" fill="#ef5350" textLength="24.5" lengthAdjust="spacingAndGlyphs">56.69</text>
<text x="270.9" y="21.4" font-size="10.8" fill="#555" textLength="6.1" lengthAdjust="spacingAndGlyphs">H</text>
<text x="277.8" y="21.4" font-size="10.8" fill="#ef5350" textLength="24.5" lengthAdjust="spacingAndGlyphs">56.82</text>
<text x="311.1" y="21.4" font-size="10.8" fill="#555" textLength="5.0" lengthAdjust="spacingAndGlyphs">L</text>
<text x="316.9" y="21.4" font-size="10.8" fill="#ef5350" textLength="24" lengthAdjust="spacingAndGlyphs">56.43</text>
<text x="348.9" y="21.8" font-size="10.5" fill="#555">收=</text>
<text x="365.3" y="21.4" font-size="10.8" fill="#ef5350" textLength="23.6" lengthAdjust="spacingAndGlyphs">56.48</text>
<text x="398.5" y="21.4" font-size="10.8" fill="#ef5350" textLength="65" lengthAdjust="spacingAndGlyphs">−0.21 (−0.38%)</text>
<circle cx="1151" cy="15.3" r="5.2" fill="none" stroke="#f59a4a" stroke-width="1.1"/><line x1="1151" y1="12.2" x2="1151" y2="16.2" stroke="#f59a4a" stroke-width="1.2"/><circle cx="1151" cy="18.2" r="0.7" fill="#f59a4a"/>
<path d="M0,0 H1200 V675 H0 Z M1.8,1.6 H1198 V669 A3 3 0 0 1 1195,672 H4.8 A3 3 0 0 1 1.8,669 Z" fill="#e0e3eb" fill-rule="evenodd"/>
<rect x="649.5" y="-4" width="234" height="8" rx="2.5" fill="#ffffff" stroke="#d6d9e0" stroke-width="1"/>
<rect x="662" y="0" width="78" height="3.2" fill="#fdecec"/><rect x="762" y="0" width="78" height="3.2" fill="#e8f4f8"/>
<rect x="1120" y="0" width="78" height="1.2" fill="#5aa9e6"/>
</svg></body></html>
